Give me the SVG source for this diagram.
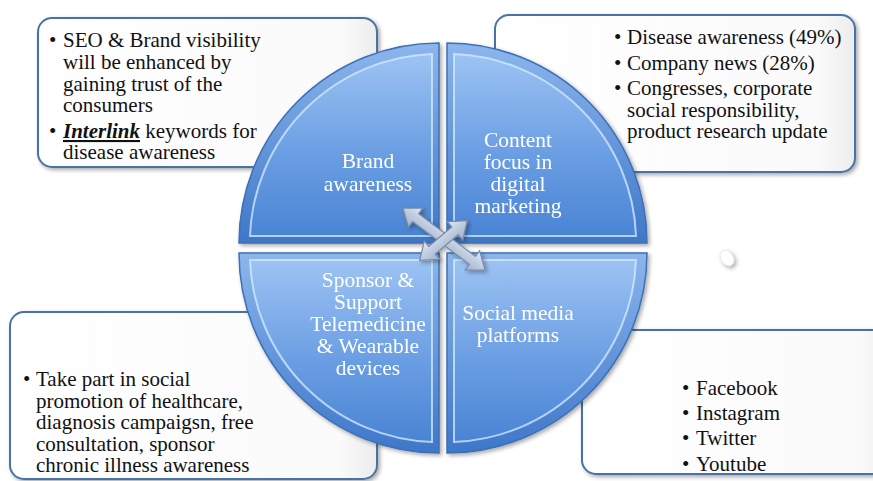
<svg xmlns="http://www.w3.org/2000/svg" width="873" height="481" viewBox="0 0 873 481">
<defs>
<style>
.box{fill:url(#boxg);stroke:#4a73a6;stroke-width:2}
.bt{font-family:"Liberation Serif","Times New Roman",serif;font-size:21px;fill:#111}
.lbl{font-family:"Liberation Serif","Times New Roman",serif;font-size:21.5px;fill:#fff;text-anchor:middle}
.qo{fill:url(#qg);stroke:#3d70b6;stroke-width:1.5}
.qi{fill:url(#qgi);stroke:#d6ecff;stroke-opacity:0.75;stroke-width:2}
.arr{fill:url(#ag);stroke:#7a8aa4;stroke-width:1.2}
</style>
<linearGradient id="boxg" x1="0" y1="0" x2="1" y2="0">
<stop offset="0" stop-color="#ffffff"/>
<stop offset="0.9" stop-color="#fafafa"/>
<stop offset="1" stop-color="#ececec"/>
</linearGradient>
<linearGradient id="qg" x1="0" y1="0" x2="0" y2="1">
<stop offset="0" stop-color="#8cb6ec"/>
<stop offset="1" stop-color="#3e77c8"/>
</linearGradient>
<linearGradient id="qgi" x1="0" y1="0" x2="0" y2="1">
<stop offset="0" stop-color="#9cc3f3"/>
<stop offset="0.55" stop-color="#6a9ee3"/>
<stop offset="1" stop-color="#4a84d4"/>
</linearGradient>
<linearGradient id="ag" x1="0" y1="0" x2="0" y2="1">
<stop offset="0" stop-color="#dfe7f3"/>
<stop offset="1" stop-color="#9fb1cc"/>
</linearGradient>
<filter id="sh" x="-10%" y="-10%" width="130%" height="130%">
<feGaussianBlur in="SourceAlpha" stdDeviation="2"/>
<feOffset dx="1.5" dy="2" result="b"/>
<feComponentTransfer><feFuncA type="linear" slope="0.35"/></feComponentTransfer>
<feMerge><feMergeNode/><feMergeNode in="SourceGraphic"/></feMerge>
</filter>
</defs>
<rect width="873" height="481" fill="#ffffff"/>

<g id="box-brand">
<rect class="box" x="38" y="18" width="339" height="149" rx="14" filter="url(#sh)"/>
<text class="bt"><tspan x="49" y="47">•</tspan><tspan x="63" y="47">SEO &amp; Brand visibility</tspan><tspan x="63" y="69">will be enhanced by</tspan><tspan x="63" y="91">gaining trust of the</tspan><tspan x="63" y="112">consumers</tspan></text>
<text class="bt"><tspan x="49" y="138">•</tspan><tspan x="63" y="138"><tspan font-weight="bold" font-style="italic" text-decoration="underline">Interlink</tspan> keywords for</tspan><tspan x="63" y="159">disease awareness</tspan></text>
</g>

<g id="box-content">
<rect class="box" x="495" y="15" width="360" height="157" rx="14" filter="url(#sh)"/>
<text class="bt"><tspan x="614" y="44">•</tspan><tspan x="627" y="44">Disease awareness (49%)</tspan></text>
<text class="bt"><tspan x="614" y="70">•</tspan><tspan x="627" y="70">Company news (28%)</tspan></text>
<text class="bt"><tspan x="614" y="95">•</tspan><tspan x="627" y="95">Congresses, corporate</tspan><tspan x="627" y="117">social responsibility,</tspan><tspan x="627" y="138">product research update</tspan></text>
</g>

<g id="box-sponsor">
<rect class="box" x="10" y="312" width="367" height="167" rx="14" filter="url(#sh)"/>
<text class="bt"><tspan x="23" y="386">•</tspan><tspan x="36" y="386">Take part in social</tspan><tspan x="36" y="408">promotion of healthcare,</tspan><tspan x="36" y="429">diagnosis campaigsn, free</tspan><tspan x="36" y="451">consultation, sponsor</tspan><tspan x="36" y="472">chronic illness awareness</tspan></text>
</g>

<g id="box-social">
<rect class="box" x="582" y="330" width="310" height="144" rx="14" filter="url(#sh)"/>
<text class="bt"><tspan x="682" y="395">•</tspan><tspan x="696" y="395">Facebook</tspan></text>
<text class="bt"><tspan x="682" y="420">•</tspan><tspan x="696" y="420">Instagram</tspan></text>
<text class="bt"><tspan x="682" y="445">•</tspan><tspan x="696" y="445">Twitter</tspan></text>
<text class="bt"><tspan x="682" y="471">•</tspan><tspan x="696" y="471">Youtube</tspan></text>
</g>

<g id="q-brand" filter="url(#sh)">
<path class="qo" d="M439,243 L239,243 A200,200 0 0 1 439,43 Z"/>
<path class="qi" d="M432,236 L250,236 A189,189 0 0 1 432,54 Z"/>
<text class="lbl"><tspan x="368" y="168">Brand</tspan><tspan x="368" y="191">awareness</tspan></text>
</g>
<g id="q-content" filter="url(#sh)">
<path class="qo" d="M447,243 L447,43 A200,200 0 0 1 647,243 Z"/>
<path class="qi" d="M454,236 L454,54 A189,189 0 0 1 636,236 Z"/>
<text class="lbl"><tspan x="518" y="147">Content</tspan><tspan x="518" y="169">focus in</tspan><tspan x="518" y="191">digital</tspan><tspan x="518" y="213">marketing</tspan></text>
</g>
<g id="q-sponsor" filter="url(#sh)">
<path class="qo" d="M439,253 L439,453 A200,200 0 0 1 239,253 Z"/>
<path class="qi" d="M432,260 L432,442 A189,189 0 0 1 250,260 Z"/>
<text class="lbl"><tspan x="368" y="287">Sponsor &amp;</tspan><tspan x="368" y="309">Support</tspan><tspan x="368" y="331">Telemedicine</tspan><tspan x="368" y="353">&amp; Wearable</tspan><tspan x="368" y="375">devices</tspan></text>
</g>
<g id="q-social" filter="url(#sh)">
<path class="qo" d="M447,253 L647,253 A200,200 0 0 1 447,453 Z"/>
<path class="qi" d="M454,260 L636,260 A189,189 0 0 1 454,442 Z"/>
<text class="lbl"><tspan x="518" y="320">Social media</tspan><tspan x="518" y="342">platforms</tspan></text>
</g>

<g id="connectors" filter="url(#sh)">
<path class="arr" transform="translate(444,239) rotate(37)" d="M-51.5,0 L-35.5,-12 L-35.5,-5 L35.5,-5 L35.5,-12 L51.5,0 L35.5,12 L35.5,5 L-35.5,5 L-35.5,12 Z"/>
<path class="arr" transform="translate(443.5,240.5) rotate(-40)" d="M-31,0 L-15,-12 L-15,-5 L15,-5 L15,-12 L31,0 L15,12 L15,5 L-15,5 L-15,12 Z"/>
</g>

<g id="blob" filter="url(#sh)">
<ellipse cx="727" cy="258" rx="6" ry="8.5" transform="rotate(-35 727 258)" fill="#ffffff" stroke="#e6e6e6" stroke-width="0.8"/>
</g>
</svg>
